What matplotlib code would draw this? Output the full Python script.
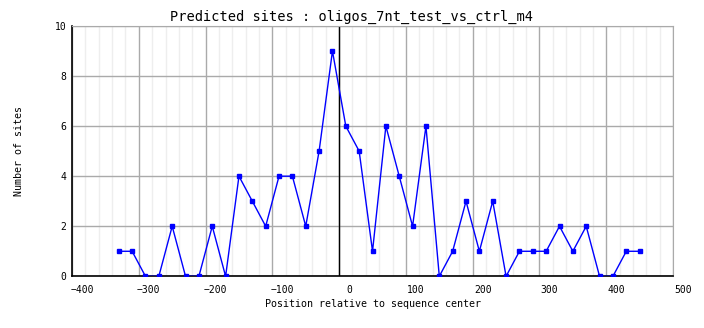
import matplotlib
matplotlib.use("Agg")
import matplotlib.pyplot as plt
from matplotlib.transforms import ScaledTranslation
from matplotlib.ticker import MultipleLocator

# --- data ---
positions = [-330, -310, -290, -270, -250, -230, -210, -190, -170, -150,
             -130, -110, -90, -70, -50, -30, -10, 10, 30, 50,
             70, 90, 110, 130, 150, 170, 190, 210, 230, 250,
             270, 290, 310, 330, 350, 370, 390, 410, 430, 450]
sites = [1, 1, 0, 0, 2, 0, 0, 2, 0, 4,
         3, 2, 4, 4, 2, 5, 9, 6, 5, 1,
         6, 4, 2, 6, 0, 1, 3, 1, 3, 0,
         1, 1, 1, 2, 1, 2, 0, 0, 1, 1]

title = "Predicted sites : oligos_7nt_test_vs_ctrl_m4"
xlabel = "Position relative to sequence center"
ylabel = "Number of sites"

plt.rcParams['font.family'] = ['DejaVu Sans Mono']

fig = plt.figure(figsize=(7.04, 3.28), dpi=100)
ax = fig.add_axes([0.1023, 0.1576, 0.8537, 0.7631])

ax.set_xlim(-400, 500)
ax.set_ylim(0, 10)
ax.xaxis.set_major_locator(MultipleLocator(100))
ax.xaxis.set_minor_locator(MultipleLocator(20))
ax.yaxis.set_major_locator(MultipleLocator(2))

ax.grid(True, which='major', color='#aaaaaa', linewidth=1)
ax.grid(True, which='minor', axis='x', color='#eeeeee', linewidth=1)
ax.set_axisbelow(True)

ax.axvline(0, color='black', linewidth=1, zorder=1)

ax.plot(positions, sites, color='#0000ff', linewidth=1,
        marker='s', markersize=2.2, zorder=3)

for s in ['top', 'right']:
    ax.spines[s].set_color('#aaaaaa')
for s in ['left', 'bottom']:
    ax.spines[s].set_color('black')
    ax.spines[s].set_linewidth(1.2)

ax.tick_params(which='both', length=0)
ax.tick_params(axis='x', labelsize=7, pad=6)
ax.tick_params(axis='y', labelsize=7, pad=4)

# tick labels in the reference sit a bit to the right of their gridline
fig.canvas.draw()
shift = ScaledTranslation(0.10, 0, fig.dpi_scale_trans)
for lab in ax.get_xticklabels():
    lab.set_transform(lab.get_transform() + shift)

ax.set_xlabel(xlabel, fontsize=7.2, labelpad=3)
ax.set_ylabel(ylabel, fontsize=7.2, labelpad=22)
fig.text(0.5, 0.948, title, ha='center', va='center', fontsize=9.8)

fig.savefig("out.png", dpi=100)
